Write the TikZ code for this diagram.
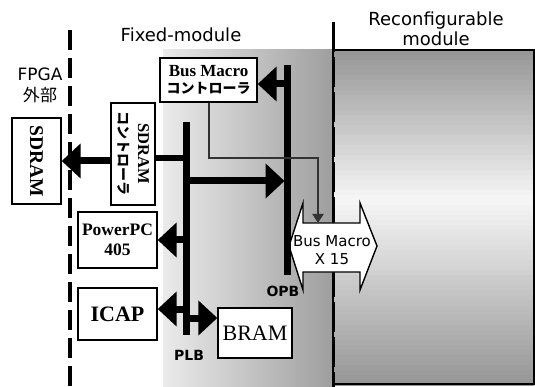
\documentclass[tikz,border=0pt]{standalone}
\usepackage{fontspec}
\setmainfont{Liberation Serif}
\setsansfont{DejaVu Sans}
\newfontfamily\jpfont{Noto Sans CJK JP}
\usetikzlibrary{arrows.meta,calc}

\begin{document}
\begin{tikzpicture}[x=1pt, y=-1pt,
    box/.style={draw, line width=1.4pt, fill=white, inner sep=0pt, align=center},
    lbl/.style={font=\sffamily\fontsize{18}{20}\selectfont, align=center, inner sep=0pt},
    bus/.style={line width=6.5pt},
    arr/.style={-{Triangle[length=19pt,width=34pt]}, line width=7pt},
    ctl/.style={-{Triangle[length=9pt,width=11pt]}, line width=2pt, black!80},
    bound/.style={line width=4pt, dash pattern=on 20pt off 8pt}
]
\useasboundingbox (0,0) rectangle (535,387);

\fill[left color=black!8, right color=black!38] (163,50) rectangle (333,387);
\foreach \i in {0,...,66} {
  \pgfmathsetmacro\g{int(4+38*abs(\i*5+52.5-200)/(\i<30 ? 150 : 184))}
  \fill[black!\g] (333,50+\i*5) rectangle (534,55.5+\i*5);
}
\draw[line width=1.5pt] (333,50) rectangle (534,384);

\draw[bound] (70,30) -- (70,387);
\draw[line width=3pt, dash pattern=on 30pt off 5pt] (333,22) -- (333,387);

\node[lbl] (fixed) at (181,35) {Fixed-module};
\node[lbl] (reconf) at (436,29) {Reconfigurable\\module};
\node[lbl, font=\sffamily\fontsize{17}{21}\selectfont] (fpga) at (40,85) {FPGA\\{\jpfont 外部}};

\node[box, minimum width=97pt, minimum height=44pt, font=\bfseries\fontsize{17}{17}\selectfont] (bmc) at (208.5,80) {Bus Macro\\{\jpfont\fontsize{14}{14}\selectfont コントローラ}};
\node[box, rotate=-90, minimum width=102pt, minimum height=44pt, font=\bfseries\fontsize{16.5}{20}\selectfont] (sdramc) at (133,154) {SDRAM\\{\jpfont\fontsize{14}{14}\selectfont コントローラ}};
\node[box, rotate=-90, minimum width=86pt, minimum height=49pt, font=\bfseries\fontsize{19.5}{20}\selectfont] (sdram) at (36.5,161) {SDRAM};
\node[box, minimum width=79pt, minimum height=56pt, font=\bfseries\fontsize{17.5}{20}\selectfont] (ppc) at (117.5,240) {PowerPC\\405};
\node[box, minimum width=79pt, minimum height=52pt, font=\bfseries\fontsize{22}{22}\selectfont] (icap) at (117.5,314) {ICAP};
\node[box, minimum width=74pt, minimum height=50pt, font=\fontsize{22}{22}\selectfont] (bram) at (255,333) {BRAM};

\draw[line width=1.4pt, fill=white] (289,246) -- (303,203) -- (303,223) -- (360,223) -- (360,203) -- (377,246) -- (360,290) -- (360,272) -- (303,272) -- (303,290) -- cycle;
\node[lbl, font=\sffamily\fontsize{15}{18}\selectfont] (bm) at (332,250) {Bus Macro\\X 15};
\coordinate (bmin) at (318,223);

\coordinate (plb) at (186.5,122);
\coordinate (opb) at (287.5,65);
\draw[bus] (plb) -- (plb |- 0,335);
\draw[bus] (opb) -- (opb |- 0,275);
\node[lbl, font=\sffamily\bfseries\fontsize{14}{14}\selectfont] (plblbl) at (189,355) {PLB};
\node[lbl, font=\sffamily\bfseries\fontsize{14}{14}\selectfont] (opblbl) at (283,291) {OPB};

\draw[arr] (sdramc.south |- sdram.center) -- (sdram.north);
\draw[bus] (sdramc.north |- 0,158) -- (plb |- 0,158);
\draw[arr, shorten >=3pt] (plb |- 0,181) -- (opb |- 0,181);
\draw[arr] (opb |- 0,84) -- (bmc.east |- 0,84);
\draw[arr] (plb |- ppc.east) -- (ppc.east);
\draw[arr] (plb |- 0,309) -- (icap.east |- 0,309);
\draw[arr] (plb |- 0,318) -- (bram.west |- 0,318);
\draw[ctl] (bmc.south) |- (bmin |- 0,158) -- (bmin);
\end{tikzpicture}
\end{document}
